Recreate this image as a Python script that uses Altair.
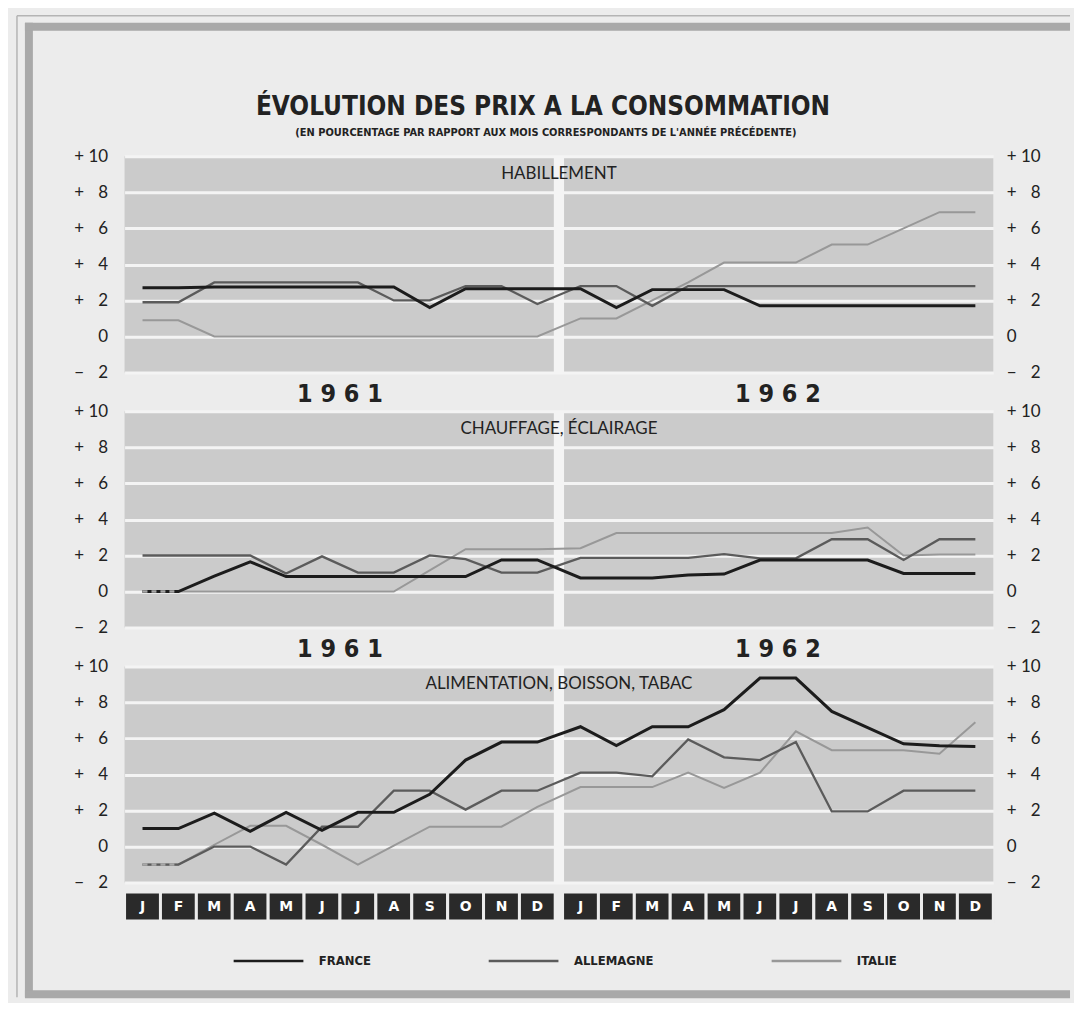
import altair as alt
import pandas as pd

# ---------------- data ----------------
months = ["J", "F", "M", "A", "M", "J", "J", "A", "S", "O", "N", "D"]
years = ["1961", "1962"]
series = ["FRANCE", "ALLEMAGNE", "ITALIE"]
panels = ["HABILLEMENT", "CHAUFFAGE, ÉCLAIRAGE", "ALIMENTATION, BOISSON, TABAC"]
title_text = "ÉVOLUTION DES PRIX A LA CONSOMMATION"
subtitle_text = "(EN POURCENTAGE PAR RAPPORT AUX MOIS CORRESPONDANTS DE L'ANNÉE PRÉCÉDENTE)"

# Habillement (24 months: 1961 then 1962)
hab_france = [2.7, 2.7, 2.75, 2.75, 2.75, 2.75, 2.75, 2.75, 1.6, 2.65, 2.65, 2.65,
              2.65, 1.6, 2.6, 2.6, 2.6, 1.7, 1.7, 1.7, 1.7, 1.7, 1.7, 1.7]
hab_allemagne = [1.9, 1.9, 3.0, 3.0, 3.0, 3.0, 3.0, 2.0, 2.0, 2.8, 2.8, 1.8,
                 2.8, 2.8, 1.7, 2.8, 2.8, 2.8, 2.8, 2.8, 2.8, 2.8, 2.8, 2.8]
hab_italie = [0.9, 0.9, 0.0, 0.0, 0.0, 0.0, 0.0, 0.0, 0.0, 0.0, 0.0, 0.0,
              1.0, 1.0, 2.0, 3.0, 4.1, 4.1, 4.1, 5.1, 5.1, 6.0, 6.9, 6.9]

# Chauffage, éclairage
cha_france = [0.0, 0.0, 0.85, 1.65, 0.83, 0.83, 0.83, 0.83, 0.83, 0.83, 1.75, 1.75,
              0.75, 0.75, 0.75, 0.92, 0.97, 1.75, 1.75, 1.75, 1.75, 1.0, 1.0, 1.0]
cha_allemagne = [2.0, 2.0, 2.0, 2.0, 1.0, 1.95, 1.05, 1.05, 2.0, 1.8, 1.05, 1.05,
                 1.87, 1.87, 1.87, 1.87, 2.08, 1.84, 1.84, 2.9, 2.9, 1.75, 2.9, 2.9]
cha_italie = [0.0, 0.0, 0.0, 0.0, 0.0, 0.0, 0.0, 0.0, 1.17, 2.35, 2.35, 2.35,
              2.4, 3.25, 3.25, 3.25, 3.25, 3.25, 3.25, 3.25, 3.55, 2.0, 2.05, 2.05]

# Alimentation, boisson, tabac
ali_france = [1.0, 1.0, 1.85, 0.85, 1.9, 0.9, 1.9, 1.9, 2.9, 4.8, 5.8, 5.8,
              6.65, 5.6, 6.65, 6.65, 7.6, 9.35, 9.35, 7.5, 6.6, 5.7, 5.6, 5.55]
ali_allemagne = [-1.0, -1.0, 0.0, 0.0, -1.0, 1.1, 1.1, 3.1, 3.1, 2.05, 3.1, 3.1,
                 4.1, 4.1, 3.9, 5.95, 4.95, 4.8, 5.8, 1.95, 1.95, 3.1, 3.1, 3.1]
ali_italie = [-1.0, -1.0, 0.1, 1.15, 1.15, 0.1, -1.0, 0.05, 1.1, 1.1, 1.1, 2.2,
              3.3, 3.3, 3.3, 4.1, 3.25, 4.1, 6.4, 5.35, 5.35, 5.35, 5.15, 6.9]

panel_values = [
    {"FRANCE": hab_france, "ALLEMAGNE": hab_allemagne, "ITALIE": hab_italie},
    {"FRANCE": cha_france, "ALLEMAGNE": cha_allemagne, "ITALIE": cha_italie},
    {"FRANCE": ali_france, "ALLEMAGNE": ali_allemagne, "ITALIE": ali_italie},
]

y_ticks = [-2, 0, 2, 4, 6, 8, 10]

# ---------------- style ----------------
W, H = 872, 217
GAP = 0.2                      # extra space between 1961 and 1962
BG = "#ececec"
CELL = "#cbcbcb"
GRID = "#f4f4f4"
FRAME = "#a9a9a9"
THIN = "#b4b4b4"
INK = "#222222"
COLORS = ["#1c1c1c", "#5b5b5b", "#989898"]
WIDTHS = {"FRANCE": 3.0, "ALLEMAGNE": 2.3, "ITALIE": 2.0}
FONT = "Lato"
COND = "DejaVu Sans Condensed"
MID = 12 + GAP / 2

xscale = alt.Scale(domain=[0, 24 + GAP], nice=False, zero=False)
yscale = alt.Scale(domain=[-2, 10], nice=False, zero=False)

grid_x = [i + (GAP if i > 12 else 0) for i in range(1, 24) if i != 12]

FS = "\u2007"
label_expr = ("datum.value > 0 ? '+ ' + (datum.value < 10 ? '" + FS + "' : '') + datum.value : "
              "(datum.value < 0 ? '\u2212 " + FS + "' + abs(datum.value) : '0')")

x_axis = alt.Axis(values=grid_x, grid=True, gridColor=GRID, gridWidth=3, labels=False,
                  ticks=False, domain=False, title=None)
y_left = alt.Axis(values=y_ticks, labelExpr=label_expr, grid=True, gridColor=GRID, gridWidth=3,
                  ticks=False, domain=False, title=None, labelPadding=17, labelFont=FONT,
                  labelFontSize=17, labelColor=INK, orient="left")
y_right = alt.Axis(values=y_ticks, labelExpr=label_expr, grid=False, ticks=False, domain=False,
                   title=None, labelPadding=13, labelFont=FONT, labelFontSize=17, labelColor=INK,
                   orient="right", labelAlign="left")

legend = alt.Legend(orient="none", legendX=108, legendY=259, direction="horizontal", title=None,
                    symbolType="stroke", symbolSize=4900, symbolStrokeWidth=2.6,
                    labelFont=COND, labelFontWeight="bold", labelFontSize=13, labelColor=INK,
                    labelOffset=14, columnPadding=112, columns=3)


def xpos(i):
    return i + 0.5 + (GAP if i >= 12 else 0)


def frame_layers():
    one = pd.DataFrame({"k": [0]})
    segs = [
        dict(color=THIN, w=1.5, x=-108, y=-141, y2=844),
        dict(color=THIN, w=1.5, x=-108, x2=949, y=-141),
        dict(color=FRAME, w=8, x=-96, y=-134, y2=844),
        dict(color=FRAME, w=8, x=-100, x2=949, y=-130),
        dict(color=FRAME, w=8, x=-100, x2=949, y=841),
    ]
    out = []
    for s in segs:
        enc = {"x": alt.value(s["x"]), "y": alt.value(s["y"])}
        if "x2" in s:
            enc["x2"] = alt.value(s["x2"])
        if "y2" in s:
            enc["y2"] = alt.value(s["y2"])
        out.append(alt.Chart(one).mark_rule(color=s["color"], strokeWidth=s["w"],
                                             strokeCap="butt").encode(**enc))
    return out


def title_layers():
    return [
        alt.Chart(pd.DataFrame({"t": [title_text]})).mark_text(
            font=COND, fontWeight="bold", fontSize=26, color=INK, align="center",
            baseline="alphabetic", dx=-16).encode(
            x=alt.XDatum(MID, scale=xscale, axis=None), y=alt.value(-41), text="t:N"),
        alt.Chart(pd.DataFrame({"t": [subtitle_text]})).mark_text(
            font=COND, fontWeight="bold", fontSize=11, color=INK, align="center",
            baseline="alphabetic", dx=-13).encode(
            x=alt.XDatum(MID, scale=xscale, axis=None), y=alt.value(-20), text="t:N"),
    ]


def strip_layers():
    mrows = []
    for j in range(2):
        for m, lab in enumerate(months):
            i = j * 12 + m
            off = GAP if i >= 12 else 0
            mrows.append({"m": lab, "x0": i + off, "x1": i + 1 + off, "xc": xpos(i)})
    mdf = pd.DataFrame(mrows)
    top = H + 9.5
    bot = top + 29
    return [
        alt.Chart(mdf).mark_rect(fill="#2a2a2a", stroke=BG, strokeWidth=3).encode(
            x=alt.X("x0:Q", scale=xscale, axis=None), x2="x1:Q",
            y=alt.value(top), y2=alt.value(bot)),
        alt.Chart(pd.DataFrame({"b": [MID]})).mark_rule(
            color=BG, strokeWidth=3 + GAP * W / 24).encode(
            x=alt.X("b:Q", scale=xscale, axis=None), y=alt.value(top), y2=alt.value(bot)),
        alt.Chart(mdf).mark_text(font="DejaVu Sans", fontWeight="bold", fontSize=14,
                                 color="white", baseline="middle").encode(
            x=alt.X("xc:Q", scale=xscale, axis=None), y=alt.value((top + bot) / 2 + 1),
            text="m:N"),
    ]


def make_panel(k):
    name = panels[k]
    vals = panel_values[k]
    rows = []
    for s in series:
        for i, v in enumerate(vals[s]):
            rows.append({"i": i, "x": xpos(i), "v": v, "series": s})
    df = pd.DataFrame(rows)

    color = alt.Color("series:N", scale=alt.Scale(domain=series, range=COLORS),
                      legend=legend if k == 2 else None)

    layers = []
    layers.append(
        alt.Chart(pd.DataFrame({"b": [MID]})).mark_rule(
            color=GRID, strokeWidth=3 + GAP * W / 24).encode(
            x=alt.X("b:Q", scale=xscale, axis=x_axis),
            y=alt.YDatum(-2, scale=yscale, axis=y_left),
            y2=alt.Y2Datum(10)))

    for s in ["ITALIE", "ALLEMAGNE", "FRANCE"]:
        layers.append(
            alt.Chart(df).transform_filter(alt.datum.series == s)
            .mark_line(strokeWidth=WIDTHS[s], strokeJoin="miter", strokeCap="butt")
            .encode(x=alt.X("x:Q", scale=xscale, axis=None),
                    y=alt.Y("v:Q", scale=yscale, axis=None),
                    color=color))

    # dashed overlay where Italie coincides with another series
    ov = []
    it = vals["ITALIE"]
    for i in range(23):
        for other in ["FRANCE", "ALLEMAGNE"]:
            o = vals[other]
            if it[i] == o[i] and it[i + 1] == o[i + 1]:
                ov.append({"seg": i, "x": xpos(i), "v": it[i]})
                ov.append({"seg": i, "x": xpos(i + 1), "v": it[i + 1]})
    if ov:
        layers.append(
            alt.Chart(pd.DataFrame(ov)).mark_line(strokeWidth=2.6, strokeDash=[5, 4],
                                                   strokeCap="butt", color="#a8a8a8")
            .encode(x=alt.X("x:Q", scale=xscale, axis=None),
                    y=alt.Y("v:Q", scale=yscale, axis=None),
                    detail="seg:N"))

    if k < 2:
        ydf = pd.DataFrame({"year": [" ".join(y) for y in years],
                            "xc": [6 + j * (12 + GAP) for j in range(2)]})
        layers.append(
            alt.Chart(ydf).mark_text(font=COND, fontWeight="bold", fontSize=25,
                                     color=INK, baseline="middle", align="center")
            .encode(x=alt.X("xc:Q", scale=xscale, axis=None),
                    y=alt.YDatum(-3.2, scale=yscale, axis=None),
                    text="year:N"))

    if k == 0:
        layers.extend(frame_layers())
        layers.extend(title_layers())
    if k == 2:
        layers.extend(strip_layers())

    layers.append(
        alt.Chart(pd.DataFrame({"label": [name]})).mark_text(
            font=FONT, fontSize=17, color=INK, baseline="middle", align="center").encode(
            x=alt.XDatum(MID, scale=xscale, axis=None),
            y=alt.YDatum(9.0, scale=yscale, axis=y_right),
            text="label:N"))

    return alt.layer(*layers).resolve_scale(y="independent").properties(
        width=W, height=H, view=alt.ViewBackground(fill=CELL, stroke=None))


p1, p2, p3 = (make_panel(k) for k in range(3))

chart = alt.vconcat(p1, p2, p3, spacing=39, bounds="flush").resolve_legend(
    color="independent").properties(
    padding={"left": 8, "top": 5, "right": 0, "bottom": 0},
    background=BG,
).configure_view(stroke=None)

chart.save("out.html", embed_options={"renderer": "svg", "actions": False})
